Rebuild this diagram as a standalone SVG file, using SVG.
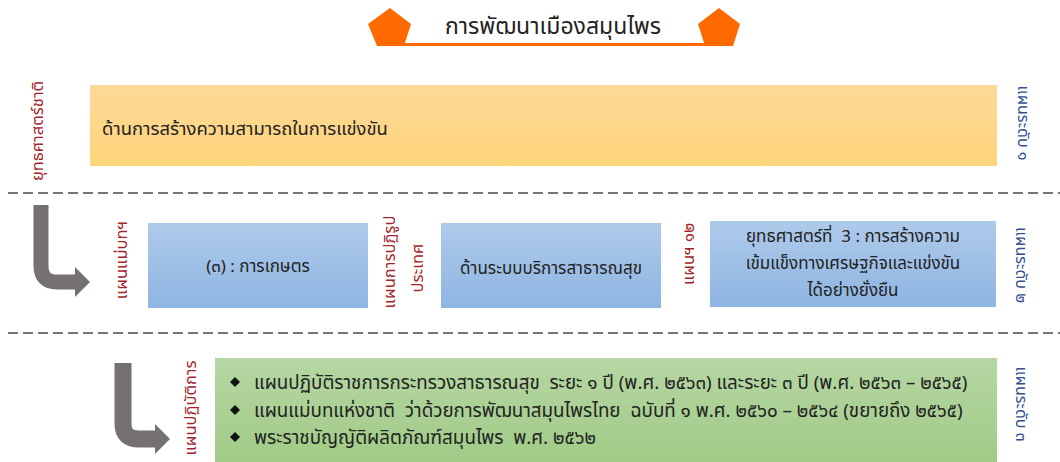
<svg xmlns="http://www.w3.org/2000/svg" width="1060" height="462" viewBox="0 0 1060 462">
<defs>
<linearGradient id="gOrange" x1="0" y1="0" x2="0" y2="1"><stop offset="0" stop-color="#FDD998"/><stop offset="1" stop-color="#FED47A"/></linearGradient>
<linearGradient id="gBlue" x1="0" y1="0" x2="0" y2="1"><stop offset="0" stop-color="#AECAEA"/><stop offset="1" stop-color="#8EB5E2"/></linearGradient>
<linearGradient id="gGreen" x1="0" y1="0" x2="0" y2="1"><stop offset="0" stop-color="#B6D7A4"/><stop offset="1" stop-color="#A0CB86"/></linearGradient>
<style>
text{font-family:"Noto Sans Thai","Noto Sans Thai UI","Tahoma","DejaVu Sans","Noto Sans",sans-serif;}
.box{fill:#222;font-size:18.4px;}
.box3{fill:#222;font-size:18.8px;}
.box2{fill:#222;font-size:17px;}
.title{fill:#222;font-size:23px;}
.red{fill:#A3242A;font-size:16.5px;}
.blue{fill:#33508F;font-size:16px;}
.dash{stroke:#767676;stroke-width:2;stroke-dasharray:10 5;fill:none;}
.arrow{stroke:#767171;fill:none;stroke-linejoin:miter;}
.head{fill:#767171;}
.penta{fill:#FF6A00;}
</style>
</defs>

<g id="title">
<polygon class="penta" points="390,8 411,24 404,46 377,46 368,24"/>
<polygon class="penta" points="719,8 740,24 733,46 705,46 698,24"/>
<rect x="403" y="43" width="302" height="3" fill="#FF6A00"/>
<text class="title" x="553" y="34" text-anchor="middle">การพัฒนาเมืองสมุนไพร</text>
</g>

<g id="connectors">
<line class="dash" x1="8" y1="193" x2="1060" y2="193"/>
<line class="dash" x1="8" y1="333" x2="1060" y2="333"/>
<path class="arrow" stroke-width="15" d="M41,205 V266 Q41,282 57,282 H77"/>
<polygon class="head" points="75,267 90,282 75,297"/>
<path class="arrow" stroke-width="17" d="M123,363 V424 Q123,439 139,439 H157"/>
<polygon class="head" points="155,424 170,439 155,454"/>
</g>

<g id="level1-label"><text class="red" transform="translate(37,131) rotate(-90)" text-anchor="middle" dominant-baseline="central">ยุทธศาสตร์ชาติ</text></g>
<g id="level1-box">
<rect x="90" y="85" width="907" height="81" fill="url(#gOrange)"/>
<text class="box" x="102" y="135">ด้านการสร้างความสามารถในการแข่งขัน</text>
</g>
<g id="level1-right"><text class="blue" transform="translate(1023,123) rotate(90)" text-anchor="middle" dominant-baseline="central">แผนระดับ ๑</text></g>

<g id="master-label"><text class="red" transform="translate(121,260) rotate(-90)" text-anchor="middle" dominant-baseline="central">แผนแม่บทฯ</text></g>
<g id="master-box">
<rect x="148" y="223" width="220" height="85" fill="url(#gBlue)"/>
<text class="box2" x="258" y="272" text-anchor="middle">(๓) : การเกษตร</text>
</g>
<g id="reform-label">
<text class="red" transform="translate(389,262) rotate(-90)" text-anchor="middle" dominant-baseline="central">แผนการปฏิรูป</text>
<text class="red" transform="translate(417,268) rotate(-90)" text-anchor="middle" dominant-baseline="central">ประเทศ</text>
</g>
<g id="reform-box">
<rect x="441" y="223" width="220" height="85" fill="url(#gBlue)"/>
<text class="box2" x="551" y="274" text-anchor="middle">ด้านระบบบริการสาธารณสุข</text>
</g>
<g id="nesdp-label"><text class="red" transform="translate(688,254) rotate(-90)" text-anchor="middle" dominant-baseline="central">แผนฯ ๑๒</text></g>
<g id="nesdp-box">
<rect x="710" y="221" width="286" height="86" fill="url(#gBlue)"/>
<text class="box2" x="853" y="242" text-anchor="middle" xml:space="preserve">ยุทธศาสตร์ที่  3 : การสร้างความ</text>
<text class="box2" x="853" y="269" text-anchor="middle">เข้มแข็งทางเศรษฐกิจและแข่งขัน</text>
<text class="box2" x="853" y="296" text-anchor="middle">ได้อย่างยั่งยืน</text>
</g>
<g id="level2-right"><text class="blue" transform="translate(1021,265) rotate(90)" text-anchor="middle" dominant-baseline="central">แผนระดับ ๒</text></g>

<g id="action-label"><text class="red" transform="translate(190,408) rotate(-90)" text-anchor="middle" dominant-baseline="central">แผนปฏิบัติการ</text></g>
<g id="action-box">
<rect x="215" y="358" width="782" height="104" fill="url(#gGreen)"/>
<polygon points="235,377 240,382 235,387 230,382" fill="#111"/>
<polygon points="235,405 240,410 235,415 230,410" fill="#111"/>
<polygon points="235,432 240,437 235,442 230,437" fill="#111"/>
<text class="box3" x="254" y="389" xml:space="preserve">แผนปฏิบัติราชการกระทรวงสาธารณสุข  ระยะ ๑ ปี (พ.ศ. ๒๕๖๓) และระยะ ๓ ปี (พ.ศ. ๒๕๖๓ – ๒๕๖๕)</text>
<text class="box3" x="254" y="417" xml:space="preserve">แผนแม่บทแห่งชาติ  ว่าด้วยการพัฒนาสมุนไพรไทย  ฉบับที่ ๑ พ.ศ. ๒๕๖๐ – ๒๕๖๔ (ขยายถึง ๒๕๖๕)</text>
<text class="box3" x="254" y="444" xml:space="preserve">พระราชบัญญัติผลิตภัณฑ์สมุนไพร  พ.ศ. ๒๕๖๒</text>
</g>
<g id="level3-right"><text class="blue" transform="translate(1021,404) rotate(90)" text-anchor="middle" dominant-baseline="central">แผนระดับ ๓</text></g>
</svg>
